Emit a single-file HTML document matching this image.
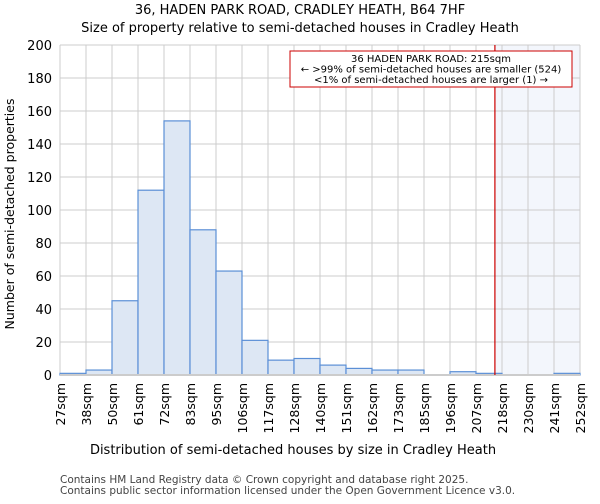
<!DOCTYPE html>
<html><head><meta charset="utf-8"><style>
body{margin:0;background:#fff;font-family:"DejaVu Sans","Liberation Sans",sans-serif;}
</style></head><body>
<svg width="600" height="500" xmlns="http://www.w3.org/2000/svg" font-family="DejaVu Sans, Liberation Sans, sans-serif">
<text x="300" y="14" text-anchor="middle" font-size="13">36, HADEN PARK ROAD, CRADLEY HEATH, B64 7HF</text>
<text x="300" y="32" text-anchor="middle" font-size="13">Size of property relative to semi-detached houses in Cradley Heath</text>
<g id="plot"></g>
<text x="293" y="454" text-anchor="middle" font-size="13">Distribution of semi-detached houses by size in Cradley Heath</text>
<text transform="translate(14,214) rotate(-90)" text-anchor="middle" font-size="12.5">Number of semi-detached properties</text>
<text x="60" y="483" font-size="10.5" fill="#444">Contains HM Land Registry data © Crown copyright and database right 2025.</text>
<text x="60" y="494" font-size="10.5" fill="#444">Contains public sector information licensed under the Open Government Licence v3.0.</text>
</svg>
<script>
const binEdges=[27,38,50,61,72,83,95,106,117,128,140,151,162,173,185,196,207,218,230,241,252];
const counts=[1,3,45,112,154,88,63,21,9,10,6,4,3,3,0,2,1,0,0,1];
const yTicks=[0,20,40,60,80,100,120,140,160,180,200];
const subjectSize=215;
const NS='http://www.w3.org/2000/svg';
const L=60,R=580,T=45,B=375;
const n=counts.length;
function xi(i){return L+(R-L)*i/n;}
function xv(v){let i=0;while(i<n-1&&v>binEdges[i+1])i++;return xi(i)+(v-binEdges[i])/(binEdges[i+1]-binEdges[i])*(xi(i+1)-xi(i));}
function y(v){return B-(B-T)*v/200;}
const g=document.getElementById('plot');
function mk(tag,attrs,parent){const e=document.createElementNS(NS,tag);for(const k in attrs)e.setAttribute(k,attrs[k]);(parent||g).appendChild(e);return e;}
const sx=xv(subjectSize);
let e=mk('rect',{x:sx,y:T,width:R-sx,height:B-T,fill:'#f3f6fc'});


yTicks.forEach(t=>{
 let l=mk('line',{x1:L,x2:R,y1:y(t),y2:y(t),stroke:'#cccccc'});
 
 
 let tx=mk('text',{x:L-8,y:y(t)+5,'text-anchor':'end','font-size':'13'});
 tx.textContent=t;
 
 
});
binEdges.forEach((b,i)=>{
 let l=mk('line',{x1:xi(i),x2:xi(i),y1:T,y2:B,stroke:'#cccccc'});
 
 
 let tx=mk('text',{transform:`translate(${xi(i)+5},${B+8}) rotate(-90)`,'text-anchor':'end','font-size':'12.5'});
 tx.textContent=b+'sqm';
 
 
});
counts.forEach((c,i)=>{
 if(c<=0)return;
 let r=mk('rect',{x:xi(i),y:y(c),width:xi(i+1)-xi(i),height:B-y(c),fill:'#dde7f4',stroke:'#5b8fd6','stroke-width':'1.2'});
 
 
});
e=mk('line',{x1:L,x2:R,y1:B,y2:B,stroke:'#cccccc','stroke-width':'2'});


e=mk('line',{x1:sx,x2:sx,y1:T,y2:B,stroke:'#cc0000','stroke-width':'1.2'});


e=mk('rect',{x:290,y:51,width:282,height:36,fill:'#fff',stroke:'#cc0000'});


['36 HADEN PARK ROAD: 215sqm','← >99% of semi-detached houses are smaller (524)','<1% of semi-detached houses are larger (1) →'].forEach((s,k)=>{
 let t=mk('text',{x:431,y:62+k*10.5,'text-anchor':'middle','font-size':'10'});
 t.textContent=s;
 
 
});
</script>
</body></html>
